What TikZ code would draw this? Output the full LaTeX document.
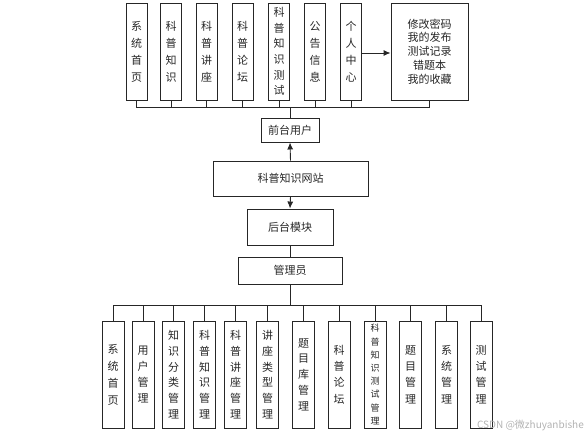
\documentclass[tikz,border=0pt]{standalone}
\usepackage{fontspec}
\newfontfamily\cjk{Noto Sans CJK SC}
\usetikzlibrary{arrows.meta}
\begin{document}
\begin{tikzpicture}[x=1pt,y=-1pt,
  base/.style={draw=black!85, line width=0.9pt, inner sep=0pt, align=center, font=\cjk\fontsize{11}{17}\selectfont, text=black!85},
  topbox/.style={base, minimum width=21, minimum height=97},
  botbox/.style={base, minimum width=22, minimum height=107},
  midbox/.style={base},
  conn/.style={draw=black!85, line width=0.9pt},
  arr/.style={conn, -{Latex[length=7pt,width=6pt]}}]
\useasboundingbox (0,0) rectangle (587,436);
% top row
\node[topbox] (t1) at (136.5,51.5) {系\\统\\首\\页};
\node[topbox] (t2) at (171,51.5) {科\\普\\知\\识};
\node[topbox] (t3) at (206.5,51.5) {科\\普\\讲\\座};
\node[topbox] (t4) at (242.5,51.5) {科\\普\\论\\坛};
\node[topbox, font=\cjk\fontsize{11}{15.6}\selectfont] (t5) at (279,51.5) {科\\普\\知\\识\\测\\试};
\node[topbox] (t6) at (315,51.5) {公\\告\\信\\息};
\node[topbox] (t7) at (351,51.5) {个\\人\\中\\心};
\node[base, minimum width=77, minimum height=97, font=\cjk\fontsize{11}{13.8}\selectfont] (t8) at (429.5,51.5) {修改密码\\我的发布\\测试记录\\错题本\\我的收藏};
% middle
\node[midbox, minimum width=58, minimum height=24] (u) at (290,130) {前台用户};
\node[midbox, minimum width=155, minimum height=35] (w) at (290.5,178.5) {科普知识网站};
\node[midbox, minimum width=86, minimum height=36] (h) at (290,227) {后台模块};
\node[midbox, minimum width=104, minimum height=27] (m) at (290,270.5) {管理员};
% bottom row
\node[botbox] (b1) at (113,374.5) {系\\统\\首\\页};
\node[botbox, font=\cjk\fontsize{11}{16.3}\selectfont] (b2) at (143,374.5) {用\\户\\管\\理};
\node[botbox, font=\cjk\fontsize{11}{15.7}\selectfont] (b3) at (173.5,374.5) {知\\识\\分\\类\\管\\理};
\node[botbox, font=\cjk\fontsize{11}{15.7}\selectfont] (b4) at (204.5,374.5) {科\\普\\知\\识\\管\\理};
\node[botbox, font=\cjk\fontsize{11}{15.7}\selectfont] (b5) at (235.5,374.5) {科\\普\\讲\\座\\管\\理};
\node[botbox, font=\cjk\fontsize{11}{15.7}\selectfont] (b6) at (267.5,374.5) {讲\\座\\类\\型\\管\\理};
\node[botbox, font=\cjk\fontsize{11}{15.8}\selectfont] (b7) at (303.5,374.5) {题\\目\\库\\管\\理};
\node[botbox, font=\cjk\fontsize{11}{16.3}\selectfont] (b8) at (339,374.5) {科\\普\\论\\坛};
\node[botbox, font=\cjk\fontsize{9}{13.2}\selectfont] (b9) at (375,374.5) {科\\普\\知\\识\\测\\试\\管\\理};
\node[botbox, font=\cjk\fontsize{11}{16.3}\selectfont] (b10) at (410.5,374.5) {题\\目\\管\\理};
\node[botbox, font=\cjk\fontsize{11}{16.3}\selectfont] (b11) at (446.5,374.5) {系\\统\\管\\理};
\node[botbox, font=\cjk\fontsize{11}{16.3}\selectfont] (b12) at (481,374.5) {测\\试\\管\\理};
% top bus
\coordinate (tb) at (0,107);
\draw[conn] (t1.south) -- (t1.south |- tb) -- (t8.south |- tb) -- (t8.south);
\foreach \k in {2,...,7} \draw[conn] (t\k.south) -- (t\k.south |- tb);
\draw[conn] (u.north) -- (u.north |- tb);
\draw[arr] (t7.east |- 0,53) -- (t8.west |- 0,53);
% middle connectors
\draw[arr] (w.north) -- (u.south);
\draw[arr] (w.south) -- (h.north);
\draw[conn] (h.south) -- (m.north);
% bottom bus
\coordinate (bb) at (0,305);
\draw[conn] (m.south) -- (m.south |- bb);
\draw[conn] (b1.north |- bb) -- (b12.north |- bb);
\foreach \k in {1,...,12} \draw[conn] (b\k.north |- bb) -- (b\k.north);
% watermark
\node[anchor=east, inner sep=0pt, font=\cjk\fontsize{10}{12}\selectfont, text=black!30] (wm) at (584,425) {CSDN @微zhuyanbishe};
\end{tikzpicture}
\end{document}
